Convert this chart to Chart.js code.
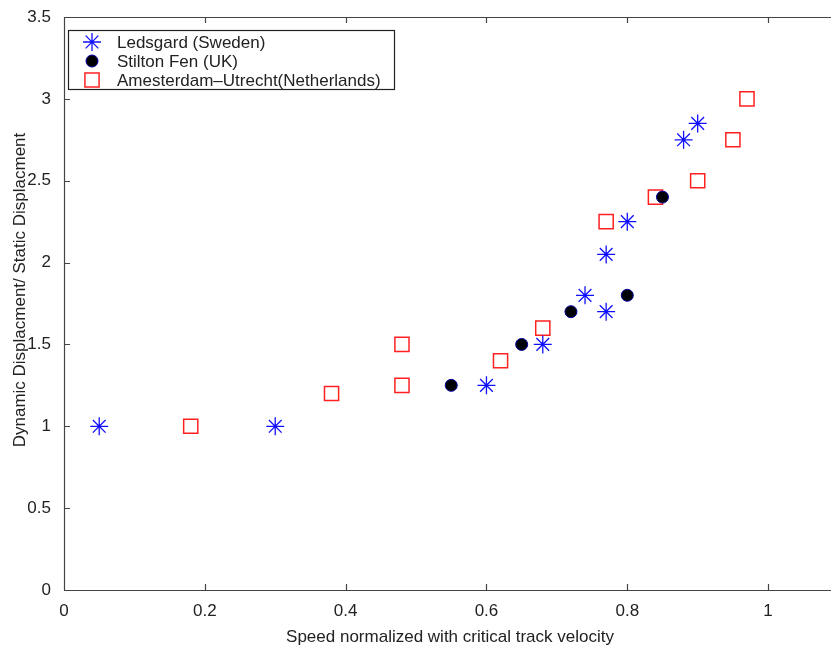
<!DOCTYPE html>
<html>
<head>
<meta charset="utf-8">
<script src="https://cdn.jsdelivr.net/npm/chart.js@4/dist/chart.umd.min.js"></script>
<style>
  html, body { margin: 0; padding: 0; background: #fff; overflow: hidden; }
  #wrap { position: absolute; left: 0; top: 0; width: 850px; height: 651px; }
</style>
</head>
<body>
<div id="wrap"><canvas id="chart" width="850" height="651"></canvas></div>
<script>
// Ledsgard (Sweden)
const ledsX = [0.05, 0.30, 0.60, 0.68, 0.74, 0.77, 0.77, 0.80, 0.88, 0.90];
const ledsY = [1.00, 1.00, 1.25, 1.50, 1.80, 1.70, 2.05, 2.25, 2.75, 2.85];
// Stilton Fen (UK)
const stilX = [0.55, 0.65, 0.72, 0.80, 0.85];
const stilY = [1.25, 1.50, 1.70, 1.80, 2.40];
// Amesterdam-Utrecht (Netherlands)
const amsX = [0.18, 0.38, 0.48, 0.48, 0.62, 0.68, 0.77, 0.84, 0.90, 0.95, 0.97];
const amsY = [1.00, 1.20, 1.25, 1.50, 1.40, 1.60, 2.25, 2.40, 2.50, 2.75, 3.00];

const labels = ['Ledsgard (Sweden)', 'Stilton Fen (UK)', 'Amesterdam\u2013Utrecht(Netherlands)'];
const xTicks = [0, 0.2, 0.4, 0.6, 0.8, 1];
const yTicks = [0, 0.5, 1, 1.5, 2, 2.5, 3, 3.5];

const FONT = '"Liberation Sans", Arial, Helvetica, sans-serif';
const FRAME = '#444';
const FS = 17;

function pts(xs, ys) {
  return xs.map((x, i) => ({ x: x, y: ys[i] }));
}

// frame, inward ticks, legend and axis titles
const decor = {
  id: 'decor',
  afterDraw(c) {
    const ctx = c.ctx;
    const a = c.chartArea;
    const xs = c.scales.x, ys = c.scales.y;
    ctx.save();
    ctx.strokeStyle = FRAME;
    ctx.lineWidth = 1.2;
    ctx.beginPath();
    ctx.moveTo(a.left, a.top + 0.5); ctx.lineTo(a.right, a.top + 0.5);
    ctx.moveTo(a.left, a.bottom + 0.5); ctx.lineTo(a.right, a.bottom + 0.5);
    ctx.moveTo(a.left + 0.5, a.top); ctx.lineTo(a.left + 0.5, a.bottom);
    ctx.moveTo(a.right - 0.5, a.top); ctx.lineTo(a.right - 0.5, a.bottom);
    const tl = 6;
    xTicks.forEach(v => {
      const p = Math.round(xs.getPixelForValue(v)) + 0.5;
      ctx.moveTo(p, a.bottom); ctx.lineTo(p, a.bottom - tl);
      ctx.moveTo(p, a.top); ctx.lineTo(p, a.top + tl);
    });
    yTicks.forEach(v => {
      const p = Math.round(ys.getPixelForValue(v)) + 0.5;
      ctx.moveTo(a.left, p); ctx.lineTo(a.left + tl, p);
      ctx.moveTo(a.right, p); ctx.lineTo(a.right - tl, p);
    });
    ctx.stroke();

    // legend
    const bx = 68.5, by = 30.5, bw = 326, bh = 59;
    ctx.fillStyle = '#fff';
    ctx.fillRect(bx, by, bw, bh);
    ctx.strokeStyle = '#222';
    ctx.lineWidth = 1.2;
    ctx.strokeRect(bx, by, bw, bh);
    ctx.font = FS + 'px ' + FONT;
    ctx.textBaseline = 'middle';
    ctx.textAlign = 'left';
    c.data.datasets.forEach((ds, i) => {
      const yy = 42 + i * 19;
      ctx.save();
      ctx.lineWidth = ds.borderWidth;
      ctx.strokeStyle = ds.borderColor;
      ctx.fillStyle = ds.backgroundColor;
      Chart.helpers.drawPoint(ctx, { pointStyle: ds.pointStyle, radius: ds.pointRadius, borderWidth: ds.borderWidth }, 92, yy);
      ctx.restore();
      ctx.fillStyle = '#222';
      ctx.fillText(ds.label, 117, yy + 1);
    });

    // axis titles
    ctx.fillStyle = '#222';
    ctx.font = FS + 'px ' + FONT;
    ctx.textAlign = 'center';
    ctx.fillText('Speed normalized with critical track velocity', 450, 637);
    ctx.save();
    ctx.translate(20, 290);
    ctx.rotate(-Math.PI / 2);
    ctx.fillText('Dynamic Displacment/ Static Displacment', 0, 0);
    ctx.restore();
    ctx.restore();
  }
};

new Chart(document.getElementById('chart'), {
  type: 'scatter',
  data: {
    datasets: [
      {
        label: labels[0],
        data: pts(ledsX, ledsY),
        pointStyle: 'star',
        pointRadius: 9,
        borderWidth: 1.3,
        borderColor: '#1010ff',
        backgroundColor: '#1010ff'
      },
      {
        label: labels[1],
        data: pts(stilX, stilY),
        pointStyle: 'circle',
        pointRadius: 6,
        borderWidth: 1,
        borderColor: '#0000a0',
        backgroundColor: '#000'
      },
      {
        label: labels[2],
        data: pts(amsX, amsY),
        pointStyle: 'rect',
        pointRadius: 10,
        borderWidth: 1.5,
        borderColor: '#ff2020',
        backgroundColor: 'rgba(0,0,0,0)'
      }
    ]
  },
  options: {
    responsive: false,
    animation: false,
    layout: { padding: { left: 0, top: 17, right: 10, bottom: 0 } },
    plugins: {
      legend: { display: false },
      tooltip: { enabled: false }
    },
    scales: {
      x: {
        type: 'linear',
        min: 0,
        max: 1.1,
        grid: { display: false },
        border: { display: false },
        ticks: {
          stepSize: 0.2,
          includeBounds: false,
          padding: 3,
          color: '#222',
          font: { family: FONT, size: FS },
          callback: v => String(Math.round(v * 10) / 10)
        },
        afterFit: s => { s.height = 61; }
      },
      y: {
        type: 'linear',
        min: 0,
        max: 3.5,
        grid: { display: false },
        border: { display: false },
        ticks: {
          stepSize: 0.5,
          padding: 5,
          color: '#222',
          font: { family: FONT, size: FS },
          callback: v => String(v)
        },
        afterFit: s => { s.width = 64; }
      }
    }
  },
  plugins: [decor]
});
</script>
</body>
</html>
